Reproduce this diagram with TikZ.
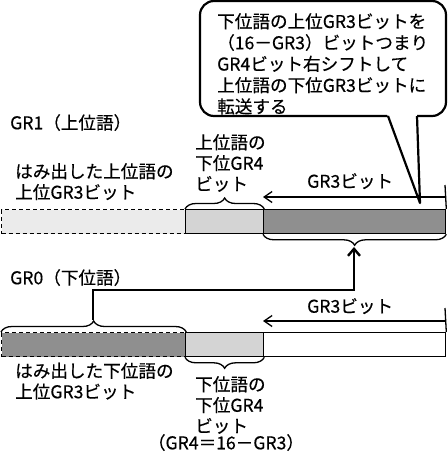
\documentclass[tikz,border=0pt]{standalone}
\usepackage{fontspec}
\setmainfont[FakeBold=0.4]{Noto Sans CJK JP}
\usetikzlibrary{arrows.meta,decorations.pathreplacing}
\definecolor{vlight}{HTML}{EBEBEB}
\definecolor{lightg}{HTML}{D4D4D4}
\definecolor{darkg}{HTML}{8F8F8F}
\begin{document}
\begin{tikzpicture}[x=1pt,y=-1pt,
  txt/.style={font=\fontsize{17.6}{20.8}\selectfont, inner sep=0pt, align=left, anchor=north west},
  seg/.style={draw, line width=1.3pt, minimum height=24pt, inner sep=0pt, anchor=north west},
  dseg/.style={seg, dash pattern=on 4pt off 3pt},
  bracestyle/.style={decorate, decoration={brace, amplitude=11pt}, line width=1.3pt},
  thinarrow/.style={line width=1.3pt, -{Straight Barb[length=8pt,width=11pt]}},
  bigarrow/.style={line width=2.4pt, -{Straight Barb[length=7pt,width=12pt]}},
  bubble/.style={draw, line width=2.2pt, rounded corners=14pt, fill=white, minimum width=246pt, minimum height=115pt, inner sep=0pt}]
\useasboundingbox (0,0) rectangle (447,455);

% speech bubble
\node[bubble] (bubble) at (323,58.5) {};
\coordinate (tip) at (420,203);
\fill[white] (386.6,113) -- (tip) -- (416.9,113) -- cycle;
\draw[line width=2.2pt, line join=round] (388,116) -- (tip) -- (417,116);
\node[txt, font=\fontsize{17.6}{21.3}\selectfont] (btext) at (217,13) {下位語の上位GR3ビットを\\（16－GR3）ビットつまり\\GR4ビット右シフトして\\上位語の下位GR3ビットに\\転送する};

% upper word
\node[txt] (gr1) at (10,114) {GR1（上位語）};
\node[dseg, fill=vlight, minimum width=184pt] (u1) at (1,209) {};
\node[seg, fill=lightg, minimum width=78pt] (u2) at (185,209) {};
\node[seg, fill=darkg, minimum width=182pt] (u3) at (263,209) {};
\draw[bracestyle] (u2.north west) -- (u2.north east);
\draw[bracestyle] (u3.south east) -- (u3.south west);
\coordinate (utip) at (354,247);
\coordinate (ur) at (445,185);
\coordinate (ua) at (445,197);
\coordinate (ub) at (263,197);
\draw[line width=1.3pt] (ur) -- (u3.north east);
\draw[thinarrow] (ua) -- (ub);
\node[txt] (hu) at (15,163) {はみ出した上位語の\\上位GR3ビット};
\node[txt] (ul) at (195,134) {上位語の\\下位GR4\\ビット};
\node[txt] (g3u) at (307,173) {GR3ビット};

% lower word
\node[txt] (gr0) at (10,269) {GR0（下位語）};
\node[dseg, fill=darkg, minimum width=184pt] (l1) at (1,332) {};
\node[seg, fill=lightg, minimum width=78pt] (l2) at (185,332) {};
\node[seg, fill=white, minimum width=182pt] (l3) at (263,332) {};
\draw[bracestyle] (l1.north west) -- (l1.north east);
\draw[bracestyle] (l2.south east) -- (l2.south west);
\coordinate (ltip) at (93,320);
\draw[bigarrow] (ltip) -- ++(0,-30) -| (utip);
\coordinate (lr) at (445,308);
\coordinate (la) at (445,321);
\coordinate (lb) at (263,321);
\draw[line width=1.3pt] (lr) -- (l3.north east);
\draw[thinarrow] (la) -- (lb);
\node[txt] (g3l) at (307,298) {GR3ビット};
\node[txt] (hl) at (15,362.5) {はみ出した下位語の\\上位GR3ビット};
\node[txt] (ll) at (195,376) {下位語の\\下位GR4\\ビット};
\node[txt, anchor=north] (eq) at (226,434) {（GR4＝16－GR3）};
\end{tikzpicture}
\end{document}
